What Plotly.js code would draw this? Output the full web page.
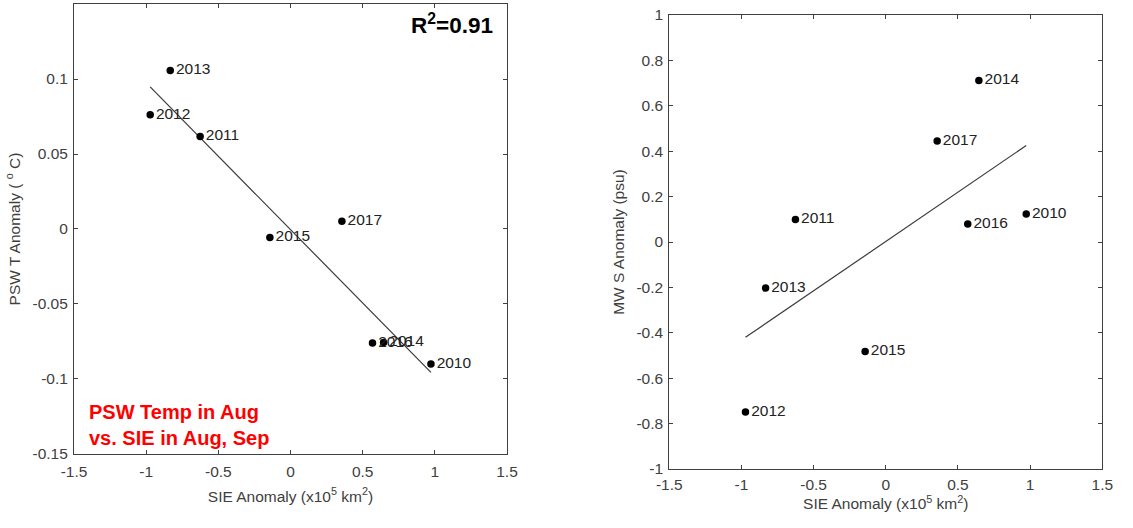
<!DOCTYPE html>
<html>
<head>
<meta charset="utf-8">
<script src="https://cdn.plot.ly/plotly-3.0.1.min.js"></script>
<style>html,body{margin:0;padding:0;background:#fff;}#chart{width:1133px;height:528px;}</style>
</head>
<body>
<div id="chart"></div>
<script>
// Data
const years = ["2010","2011","2012","2013","2014","2015","2016","2017"];
const sieAnomaly = [0.973, -0.626, -0.972, -0.833, 0.645, -0.143, 0.568, 0.356];
const pswTempAnomaly = [-0.090, 0.0617, 0.0762, 0.1057, -0.0756, -0.0056, -0.076, 0.0051];
const mwSalAnomaly = [0.123, 0.0996, -0.749, -0.203, 0.711, -0.482, 0.079, 0.445];
// fitted line end points (as drawn in the reference)
const fitX = [-0.972, 0.973];
const fitTempY = [0.0947, -0.0956];
const fitSalY = [-0.42, 0.425];
const xTicks = [-1.5, -1, -0.5, 0, 0.5, 1, 1.5];
const xTickText = ["-1.5", "-1", "-0.5", "0", "0.5", "1", "1.5"];
const tempTicks = [-0.15, -0.1, -0.05, 0, 0.05, 0.1];
const tempTickText = ["-0.15", "-0.1", "-0.05", "0", "0.05", "0.1"];
const salTicks = [-1, -0.8, -0.6, -0.4, -0.2, 0, 0.2, 0.4, 0.6, 0.8, 1];
const salTickText = ["-1", "-0.8", "-0.6", "-0.4", "-0.2", "0", "0.2", "0.4", "0.6", "0.8", "1"];

const FONT = "Liberation Sans, Arial, Helvetica, sans-serif";
const AX = "#404040";
const FS = 15.5;

const traces = [
  {x: fitX, y: fitTempY, xaxis: "x", yaxis: "y", mode: "lines", line: {color: "#3a3a3a", width: 1.2}, hoverinfo: "skip"},
  {x: sieAnomaly, y: pswTempAnomaly, xaxis: "x", yaxis: "y", mode: "markers+text", text: years,
   textposition: "middle right", textfont: {family: FONT, size: FS, color: "#222"},
   marker: {color: "#000", size: 7.5}},
  {x: fitX, y: fitSalY, xaxis: "x2", yaxis: "y2", mode: "lines", line: {color: "#3a3a3a", width: 1.2}, hoverinfo: "skip"},
  {x: sieAnomaly, y: mwSalAnomaly, xaxis: "x2", yaxis: "y2", mode: "markers+text", text: years,
   textposition: "middle right", textfont: {family: FONT, size: FS, color: "#222"},
   marker: {color: "#000", size: 7.5}}
];

function xax(domain, anchor, standoff, tls) {
  return {domain: domain, anchor: anchor, range: [-1.5, 1.5], tickvals: xTicks,
    tickmode: "array", ticktext: xTickText, ticklabelstandoff: tls,
    ticks: "inside", ticklen: 4, tickcolor: AX, showline: true, linecolor: AX, linewidth: 1,
    mirror: "ticks", showgrid: false, zeroline: false, automargin: false,
    tickfont: {family: FONT, size: FS, color: AX},
    title: {text: "SIE Anomaly (x10<sup>5</sup> km<sup>2</sup>)", font: {family: FONT, size: FS, color: AX}, standoff: standoff}};
}
function yax(domain, anchor, range, vals, txt, title) {
  return {domain: domain, anchor: anchor, range: range, tickvals: vals, ticktext: txt, tickmode: "array",
    ticks: "inside", ticklen: 4, tickcolor: AX, showline: true, linecolor: AX, linewidth: 1,
    mirror: "ticks", showgrid: false, zeroline: false, automargin: false, ticklabelstandoff: 2,
    tickfont: {family: FONT, size: FS, color: AX},
    title: {text: title, font: {family: FONT, size: FS, color: AX}, standoff: 8}};
}

const layout = {
  width: 1133, height: 528,
  margin: {l: 0, r: 0, t: 0, b: 0},
  paper_bgcolor: "#fff", plot_bgcolor: "#fff",
  showlegend: false,
  xaxis: xax([0.0653, 0.4475], "y", 12, 3),
  yaxis: yax([0.1402, 0.9924], "x", [-0.15, 0.15], tempTicks, tempTickText, "PSW T Anomaly ( <sup>o</sup> C)"),
  xaxis2: xax([0.5907, 0.9729], "y2", 0, 1),
  yaxis2: yax([0.1117, 0.9716], "x2", [-1, 1], salTicks, salTickText, "MW S Anomaly (psu)"),
  annotations: [
    {xref: "paper", yref: "paper", x: 495/1133, y: 1 - 24/528, xanchor: "right", yanchor: "middle",
     text: "<b>R<sup>2</sup>=0.91</b>", showarrow: false, font: {family: FONT, size: 22.5, color: "#000"}},
    {xref: "paper", yref: "paper", x: 87/1133, y: 1 - 425/528, xanchor: "left", yanchor: "middle", align: "left",
     text: "<b>PSW Temp in Aug<br>vs. SIE in Aug, Sep</b>", showarrow: false,
     font: {family: FONT, size: 20, color: "#ff0000"}}
  ]
};

Plotly.newPlot("chart", traces, layout, {displayModeBar: false, staticPlot: true});
</script>
</body>
</html>
